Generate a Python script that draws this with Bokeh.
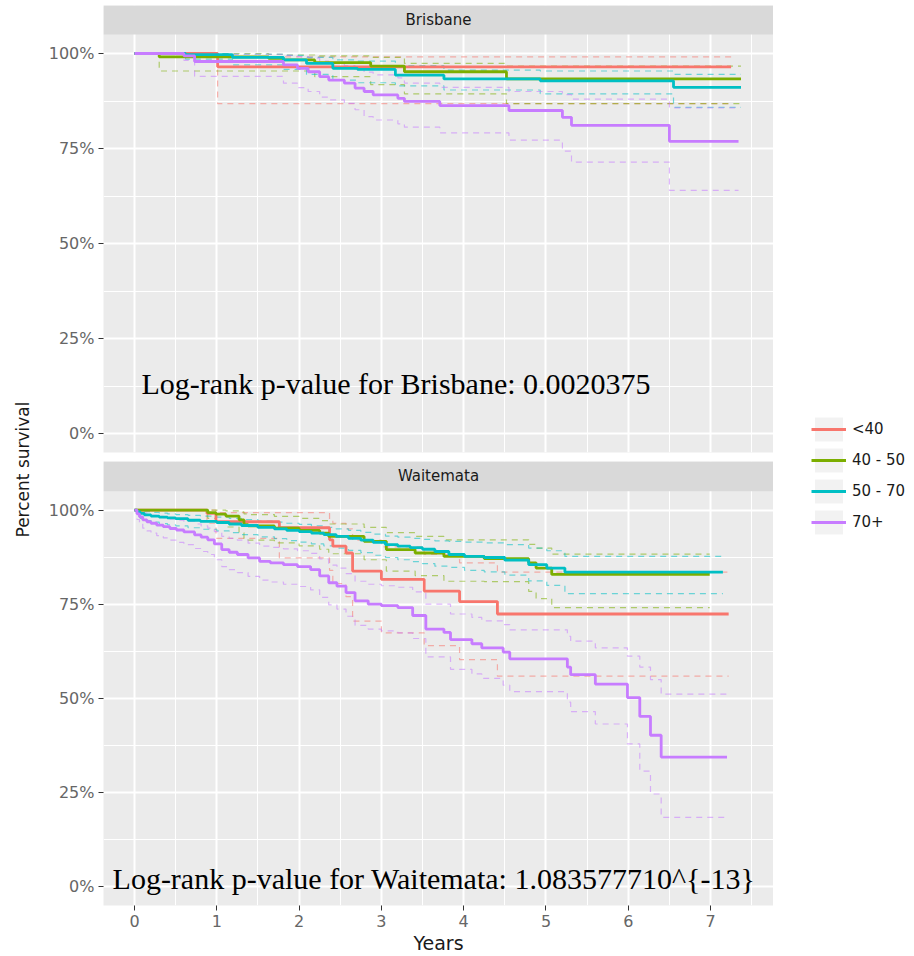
from math import pi

from bokeh.embed import file_html
from bokeh.layouts import column, row
from bokeh.models import (BoxAnnotation, FixedTicker, Label, Legend, LegendItem,
                          PrintfTickFormatter, Range1d)
from bokeh.plotting import figure
from bokeh.resources import INLINE

# ---------------------------------------------------------------- data
groups = ["<40", "40 - 50", "50 - 70", "70+"]
colors = ["#F8766D", "#7CAE00", "#00BFC4", "#C77CFF"]
regions = ["Brisbane", "Waitemata"]
pvalue_text = ["Log-rank p-value for Brisbane: 0.0020375",
               "Log-rank p-value for Waitemata: 1.083577710^{-13}"]

x_ticks = [0, 1, 2, 3, 4, 5, 6, 7]
x_minor = [0.5, 1.5, 2.5, 3.5, 4.5, 5.5, 6.5, 7.5]
y_ticks = [0, 25, 50, 75, 100]
y_minor = [12.5, 37.5, 62.5, 87.5, 112.5]

# Brisbane: Kaplan-Meier estimate (%) with 95% band, step times in years
bris_lt40_t = [0, 1.01, 7.25]
bris_lt40_surv = [100, 96.5, 96.5]
bris_lt40_upper = [100, 99.1, 99.1]
bris_lt40_lower = [100, 86.8, 86.8]

bris_40_50_t = [0, 0.30, 1.63, 1.81, 2.19, 2.87, 3.28, 4.52, 7.37]
bris_40_50_surv = [100, 99.1, 98.7, 98.3, 97.6, 96.7, 95.2, 93.3, 93.3]
bris_40_50_upper = [100, 100, 99.8, 99.6, 99.4, 99.0, 97.4, 96.7, 96.7]
bris_40_50_lower = [100, 95.4, 95.4, 95.4, 93.9, 91.8, 89.4, 86.8, 86.8]

bris_50_70_t = [0, 0.62, 1.19, 1.81, 2.09, 2.41, 2.71, 3.17, 3.76, 4.93, 6.55, 7.37]
bris_50_70_surv = [100, 99.7, 99.0, 98.3, 97.4, 96.1, 95.8, 94.3, 93.3, 92.8, 91.1, 91.1]
bris_50_70_upper = [100, 100, 99.8, 99.5, 99.0, 98.3, 98.0, 96.8, 95.6, 95.4, 94.5, 94.5]
bris_50_70_lower = [100, 98.5, 97.0, 95.8, 94.5, 93.0, 92.3, 91.5, 90.4, 89.4, 85.8, 85.8]

bris_70_t = [0, 0.60, 0.73, 1.81, 1.98, 2.11, 2.25, 2.36, 2.55, 2.68, 2.79, 2.90,
             3.20, 3.28, 3.71, 4.55, 5.20, 5.31, 6.50, 7.34]
bris_70_surv = [100, 99.4, 97.9, 97.0, 96.1, 95.2, 93.9, 93.0, 92.2, 90.9, 90.0, 89.1,
                88.2, 87.4, 86.3, 85.0, 83.2, 81.1, 76.9, 76.9]
bris_70_upper = [100, 100, 99.8, 99.5, 99.2, 98.8, 98.0, 97.4, 96.8, 95.8, 95.1, 94.4,
                 93.6, 92.2, 91.1, 90.0, 89.2, 88.0, 85.7, 85.7]
bris_70_lower = [100, 98.2, 94.0, 92.2, 91.0, 90.0, 88.5, 87.8, 86.9, 85.2, 83.4, 82.5,
                 81.5, 80.6, 79.1, 77.2, 74.3, 71.4, 64.0, 64.0]

# Waitemata
wait_lt40_t = [0, 0.88, 0.99, 1.76, 2.37, 2.41, 2.57, 2.65, 3.00, 3.52, 3.95, 4.41, 7.22]
wait_lt40_surv = [100, 99.1, 96.9, 95.3, 92.1, 90.4, 88.6, 83.8, 81.6, 78.5, 75.7, 72.4, 72.4]
wait_lt40_upper = [100, 100, 99.3, 99.3, 97.5, 96.5, 95.0, 92.0, 90.2, 88.2, 86.0, 83.5, 83.5]
wait_lt40_lower = [100, 96.5, 92.5, 87.3, 84.0, 80.5, 77.0, 70.5, 67.4, 64.0, 60.3, 55.9, 55.9]

wait_40_50_t = [0, 0.89, 0.99, 1.11, 1.27, 1.33, 1.38, 1.70, 2.00, 2.25, 2.36, 2.79,
                3.06, 3.41, 3.76, 4.25, 4.79, 4.88, 5.07, 6.99]
wait_40_50_surv = [100, 99.3, 98.9, 98.4, 97.4, 96.1, 95.8, 95.2, 94.6, 93.9, 93.0, 91.7,
                   89.5, 88.6, 87.7, 87.1, 86.0, 84.6, 82.9, 82.9]
wait_40_50_upper = [100, 100, 100, 99.8, 99.5, 99.0, 98.8, 98.3, 97.8, 97.2, 96.3, 95.4,
                    94.0, 93.0, 92.1, 92.1, 90.9, 89.9, 88.3, 88.3]
wait_40_50_lower = [100, 97.8, 96.5, 95.5, 94.0, 92.3, 92.0, 91.3, 90.5, 89.6, 88.4, 86.8,
                    83.8, 82.6, 81.1, 81.0, 78.4, 76.5, 74.1, 74.1]

wait_50_70_t = [0, 0.03, 0.07, 0.12, 0.2, 0.3, 0.4, 0.5, 0.65, 0.8, 1.0, 1.15, 1.3, 1.5,
                1.7, 1.85, 2.0, 2.15, 2.3, 2.45, 2.6, 2.75, 2.9, 3.05, 3.2, 3.35, 3.5,
                3.65, 3.82, 4.01, 4.25, 4.5, 4.79, 5.01, 5.23, 7.15]
wait_50_70_surv = [100, 99.5, 99.1, 98.7, 98.4, 98.1, 97.9, 97.7, 97.3, 97.0, 96.7, 96.3,
                   95.9, 95.4, 95.0, 94.6, 94.3, 93.9, 93.5, 93.0, 92.5, 92.0, 91.4, 90.8,
                   90.4, 90.0, 89.6, 89.0, 88.2, 87.7, 87.4, 86.7, 85.5, 84.6, 83.5, 83.5]
wait_50_70_upper = [100, 100, 99.8, 99.6, 99.4, 99.2, 99.0, 98.8, 98.6, 98.4, 98.1, 97.8,
                    97.5, 97.1, 96.8, 96.5, 96.2, 95.8, 95.4, 95.0, 94.6, 94.1, 93.6, 93.1,
                    92.8, 92.5, 92.2, 91.8, 91.7, 91.5, 91.3, 90.8, 89.9, 89.2, 87.7, 87.7]
wait_50_70_lower = [100, 98.5, 97.8, 97.2, 96.8, 96.4, 96.1, 95.8, 95.3, 94.9, 94.5, 94.0,
                    93.5, 92.9, 92.4, 91.9, 91.5, 91.0, 90.5, 89.9, 89.3, 88.7, 88.0, 87.4,
                    86.8, 86.3, 85.8, 85.1, 84.8, 84.0, 83.6, 82.7, 81.2, 80.0, 77.8, 77.8]

wait_70_t = [0, 0.03, 0.06, 0.1, 0.15, 0.2, 0.27, 0.35, 0.43, 0.51, 0.6, 0.73, 0.81,
             0.89, 0.97, 1.06, 1.15, 1.25, 1.38, 1.52, 1.65, 1.81, 1.98, 2.14, 2.25,
             2.36, 2.46, 2.57, 2.68, 2.84, 3.00, 3.20, 3.38, 3.54, 3.76, 3.84, 4.10,
             4.22, 4.48, 4.56, 5.26, 5.30, 5.60, 5.99, 6.14, 6.27, 6.40, 7.20]
wait_70_surv = [100, 99.0, 98.2, 97.4, 96.9, 96.5, 96.0, 95.6, 95.1, 94.7, 94.2, 93.4,
                92.8, 92.1, 91.0, 89.5, 88.8, 88.2, 87.3, 86.4, 86.0, 85.5, 85.0, 84.2,
                82.5, 80.7, 79.8, 78.1, 75.9, 75.0, 74.6, 74.1, 72.0, 68.4, 67.5, 65.6,
                64.5, 63.4, 62.3, 60.5, 58.3, 56.3, 53.8, 50.2, 45.2, 40.2, 34.4, 34.4]
wait_70_upper = [100, 100, 99.6, 99.2, 98.9, 98.6, 98.3, 98.0, 97.6, 97.3, 97.0, 96.3,
                 95.8, 95.2, 94.3, 93.0, 92.5, 92.0, 91.2, 90.4, 90.1, 89.7, 89.2, 88.5,
                 87.0, 85.4, 84.6, 83.1, 81.1, 80.3, 79.9, 79.5, 78.3, 75.0, 75.0, 72.4,
                 71.5, 70.6, 69.6, 68.2, 66.5, 65.2, 63.4, 61.2, 58.3, 55.0, 51.1, 51.1]
wait_70_lower = [100, 97.5, 96.3, 95.2, 94.5, 93.9, 93.2, 92.6, 92.0, 91.4, 90.8, 89.8,
                 89.0, 88.2, 86.8, 85.0, 84.2, 83.4, 82.4, 81.4, 80.9, 80.3, 79.7, 78.8,
                 76.8, 74.8, 73.7, 71.8, 69.4, 68.4, 67.9, 67.4, 65.9, 61.0, 61.0, 57.7,
                 56.5, 55.3, 53.5, 51.8, 49.0, 46.5, 43.2, 37.9, 30.7, 24.6, 18.4, 18.4]

brisbane_curves = [
    (bris_lt40_t, bris_lt40_surv, bris_lt40_upper, bris_lt40_lower),
    (bris_40_50_t, bris_40_50_surv, bris_40_50_upper, bris_40_50_lower),
    (bris_50_70_t, bris_50_70_surv, bris_50_70_upper, bris_50_70_lower),
    (bris_70_t, bris_70_surv, bris_70_upper, bris_70_lower),
]
waitemata_curves = [
    (wait_lt40_t, wait_lt40_surv, wait_lt40_upper, wait_lt40_lower),
    (wait_40_50_t, wait_40_50_surv, wait_40_50_upper, wait_40_50_lower),
    (wait_50_70_t, wait_50_70_surv, wait_50_70_upper, wait_50_70_lower),
    (wait_70_t, wait_70_surv, wait_70_upper, wait_70_lower),
]

# ---------------------------------------------------------------- styling
PANEL_BG = "#EBEBEB"
STRIP_BG = "#D9D9D9"
SANS = "DejaVu Sans"
SERIF = "Liberation Serif"
X_LO, X_HI = -0.377, 7.765
Y_LO, Y_HI = -5.0, 105.0
PANEL_PX = 418           # height of the grey panel area in pixels
LEFT_W, LEGEND_W = 35, 141
PANEL_FIG_W = 914 - LEFT_W - LEGEND_W
NAN = float("nan")

x_range = Range1d(X_LO, X_HI)


def facet(region, curves, note, note_x, note_y, height, border_top, border_bottom,
          strip_px, show_x):
    strip_top = Y_HI + strip_px * (Y_HI - Y_LO) / PANEL_PX
    p = figure(width=PANEL_FIG_W, height=height, x_range=x_range,
               y_range=Range1d(Y_LO, strip_top), output_backend="svg",
               toolbar_location=None, min_border_left=68, min_border_right=0,
               min_border_top=border_top, min_border_bottom=border_bottom,
               background_fill_color=PANEL_BG, border_fill_color="white",
               outline_line_color=None)

    xt = FixedTicker(ticks=x_ticks, minor_ticks=x_minor)
    yt = FixedTicker(ticks=y_ticks, minor_ticks=y_minor)
    p.xaxis.ticker = xt
    p.xgrid.ticker = xt
    p.yaxis.ticker = yt
    p.ygrid.ticker = yt
    p.yaxis.formatter = PrintfTickFormatter(format="%d%%")

    p.grid.grid_line_color = "white"
    p.grid.grid_line_width = 2
    p.grid.minor_grid_line_color = "white"
    p.grid.minor_grid_line_width = 1

    for ax in (p.xaxis, p.yaxis):
        ax.axis_line_color = None
        ax.major_tick_line_color = "#333333"
        ax.major_tick_line_width = 1
        ax.major_tick_in = 0
        ax.major_tick_out = 5
        ax.minor_tick_line_color = None
        ax.major_label_text_color = "#666666"
        ax.major_label_text_font = SANS
        ax.major_label_text_font_size = "16px"
        ax.major_label_standoff = 4

    if show_x:
        p.xaxis.axis_label = "Years"
        p.xaxis.axis_label_text_font = SANS
        p.xaxis.axis_label_text_font_size = "19px"
        p.xaxis.axis_label_text_font_style = "normal"
        p.xaxis.axis_label_text_color = "#1A1A1A"
        p.xaxis.axis_label_standoff = 2
        p.xaxis.major_label_standoff = 4
    else:
        p.xaxis.visible = False

    # confidence bands first, estimates on top
    for (t, s, hi, lo), c in zip(curves, colors):
        for band in (hi, lo):
            p.step(t, band, mode="after", line_color=c, line_width=1.2,
                   line_alpha=0.55, line_dash="6 5")
    for (t, s, hi, lo), c in zip(curves, colors):
        p.step(t, s, mode="after", line_color=c, line_width=2.8)

    # facet strip
    p.add_layout(BoxAnnotation(bottom=Y_HI, top=strip_top, left=X_LO, right=X_HI,
                               fill_color=STRIP_BG, fill_alpha=1.0, line_color=None))
    p.add_layout(Label(x=(X_LO + X_HI) / 2, y=(Y_HI + strip_top) / 2, text=region,
                       text_align="center", text_baseline="middle",
                       text_font=SANS, text_font_size="15px", text_color="#1A1A1A"))

    p.add_layout(Label(x=note_x, y=note_y, text=note, text_align="left",
                       text_baseline="middle", text_font=SERIF,
                       text_font_size="30px", text_color="black"))
    return p


p_top = facet(regions[0], brisbane_curves, pvalue_text[0], 0.085, 13.2,
              height=461, border_top=5, border_bottom=9, strip_px=29, show_x=False)
p_bottom = facet(regions[1], waitemata_curves, pvalue_text[1], -0.267, 2.1,
                 height=495, border_top=0, border_bottom=47, strip_px=30, show_x=True)

# shared y-axis title
p_left = figure(width=LEFT_W, height=956, x_range=Range1d(0, LEFT_W),
                y_range=Range1d(956, 0), output_backend="svg", toolbar_location=None,
                min_border=0, outline_line_color=None, border_fill_color="white",
                background_fill_color="white")
p_left.axis.visible = False
p_left.grid.visible = False
p_left.add_layout(Label(x=22, y=469, text="Percent survival", angle=pi / 2,
                        text_align="center", text_baseline="middle", text_font=SANS,
                        text_font_size="17px", text_color="#1A1A1A"))

# legend column: each key is a light grey box with the group's line across it
p_leg = figure(width=LEGEND_W, height=956, x_range=Range1d(0, LEGEND_W),
               y_range=Range1d(0, 956), output_backend="svg", toolbar_location=None,
               min_border=0, outline_line_color=None, border_fill_color="white",
               background_fill_color="white")
p_leg.axis.visible = False
p_leg.grid.visible = False
items = []
for g, c in zip(groups, colors):
    key = p_leg.quad(left=[NAN], right=[NAN], top=[NAN], bottom=[NAN],
                     fill_color="#F2F2F2", line_color=None)
    ln = p_leg.line(x=[NAN], y=[NAN], line_color=c, line_width=2.8)
    items.append(LegendItem(label=g, renderers=[key, ln]))
legend = Legend(items=items, location=(38, 419), glyph_width=35, glyph_height=30,
                label_height=30, spacing=1, padding=0, margin=0, label_standoff=6,
                label_text_font=SANS, label_text_font_size="15px",
                label_text_color="#1A1A1A", background_fill_alpha=0,
                border_line_color=None)
p_leg.add_layout(legend)

layout = row(p_left, column(p_top, p_bottom, spacing=0), p_leg, spacing=0)

with open("out.html", "w") as f:
    f.write(file_html(layout, INLINE))
